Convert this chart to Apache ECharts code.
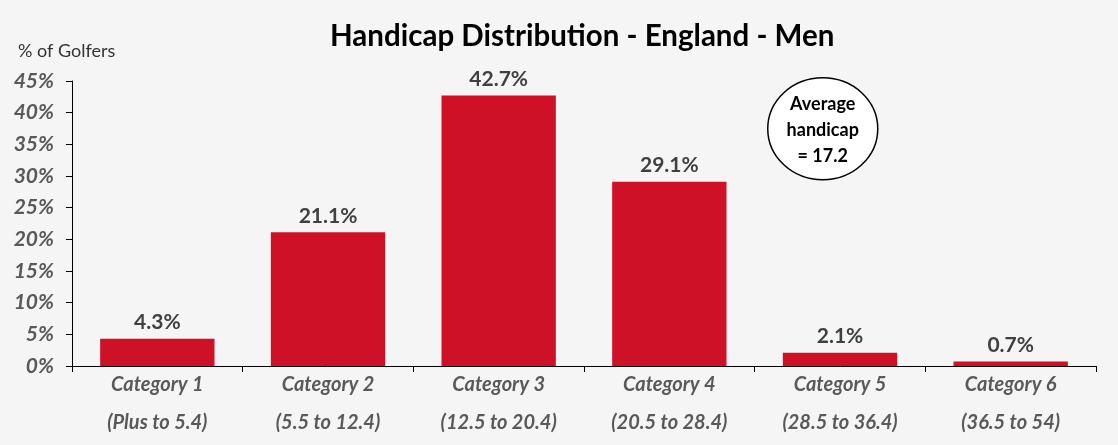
<!DOCTYPE html>
<html>
<head>
<meta charset="utf-8">
<script src="https://cdn.jsdelivr.net/npm/echarts@6/dist/echarts.min.js"></script>
<style>
  html, body { margin: 0; padding: 0; background: #f5f5f5; }
  #chart { width: 1118px; height: 445px; }
</style>
</head>
<body>
<div id="chart"></div>
<script>
var categories = ['Category 1\n(Plus to 5.4)', 'Category 2\n(5.5 to 12.4)', 'Category 3\n(12.5 to 20.4)',
  'Category 4\n(20.5 to 28.4)', 'Category 5\n(28.5 to 36.4)', 'Category 6\n(36.5 to 54)'];
var values = [4.3, 21.1, 42.7, 29.1, 2.1, 0.7];
var yTicks = [0, 5, 10, 15, 20, 25, 30, 35, 40, 45];

var font = 'Lato, "Open Sans", sans-serif';
var myChart = echarts.init(document.getElementById('chart'));
var option = {
  backgroundColor: '#f5f5f5',
  animation: false,
  title: {
    text: 'Handicap Distribution - England - Men',
    left: 325,
    top: 16,
    textStyle: { fontFamily: font, fontSize: 29.5, fontWeight: 'bold', color: '#000' }
  },
  grid: { left: 72, right: 22, top: 81, bottom: 79, outerBoundsMode: 'none' },
  xAxis: {
    type: 'category',
    data: categories,
    axisLine: { lineStyle: { color: '#000', width: 1 } },
    axisTick: { show: true, length: 6, lineStyle: { color: '#000' } },
    axisLabel: {
      margin: 0,
      fontFamily: font,
      fontSize: 20,
      fontStyle: 'italic',
      fontWeight: 'bold',
      color: '#595959',
      lineHeight: 38
    }
  },
  yAxis: {
    type: 'value',
    min: yTicks[0],
    max: yTicks[yTicks.length - 1],
    interval: 5,
    name: '% of Golfers',
    nameLocation: 'end',
    nameGap: 21,
    nameTextStyle: { fontFamily: font, fontSize: 18, color: '#333', align: 'left', padding: [0, 0, 0, -54] },
    axisLine: { show: true, lineStyle: { color: '#000' } },
    axisTick: { show: true, length: 6, lineStyle: { color: '#000' } },
    splitLine: { show: false },
    axisLabel: {
      margin: 18,
      fontFamily: font,
      fontSize: 21,
      fontStyle: 'italic',
      fontWeight: 'bold',
      color: '#595959',
      formatter: '{value}%'
    }
  },
  series: [{
    type: 'bar',
    data: values,
    barWidth: '67%',
    itemStyle: { color: '#cf1128' },
    label: {
      show: true,
      position: 'top',
      distance: 6,
      fontFamily: font,
      fontSize: 21,
      fontWeight: 'bold',
      color: '#404040',
      formatter: function (p) { return p.value.toFixed(1) + '%'; }
    }
  }],
  graphic: [{
    type: 'group',
    left: 767,
    top: 77,
    children: [{
      type: 'ellipse',
      shape: { cx: 55, cy: 51, rx: 55, ry: 51 },
      style: { fill: '#fff', stroke: '#000', lineWidth: 1.5 }
    }, {
      type: 'text',
      x: 55,
      y: 52,
      style: {
        text: 'Average\nhandicap\n= 17.2',
        fontFamily: font,
        fontSize: 18,
        fontWeight: 'bold',
        lineHeight: 26,
        fill: '#000',
        align: 'center',
        verticalAlign: 'middle'
      }
    }]
  }]
};
myChart.setOption(option, true);
</script>
</body>
</html>
